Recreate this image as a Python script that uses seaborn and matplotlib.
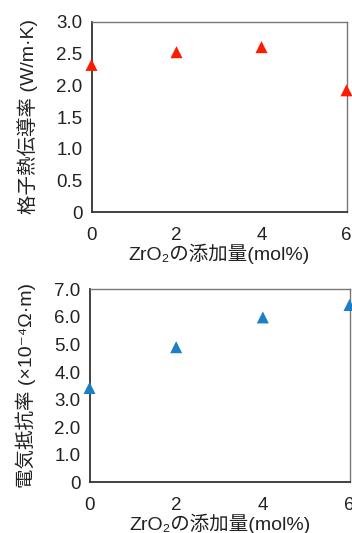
import matplotlib
matplotlib.use("Agg")
import matplotlib.pyplot as plt
import seaborn as sns
import pandas as pd

# データ
zro2 = [0, 2, 4, 6]
lattice_k = [2.32, 2.52, 2.60, 1.92]
resistivity = [3.42, 4.90, 5.98, 6.43]

sns.set_style("white")
plt.rcParams['font.family'] = ['Liberation Sans', 'Noto Sans CJK JP', 'DejaVu Sans']

W, H = 352, 533
fig = plt.figure(figsize=(W / 100, H / 100), dpi=100)

df1 = pd.DataFrame({'x': zro2, 'y': lattice_k})
df2 = pd.DataFrame({'x': zro2, 'y': resistivity})

ax1 = fig.add_axes([91.5 / W, 1 - 212.3 / H, (346.5 - 91.5) / W, (212.3 - 21.7) / H])
ax2 = fig.add_axes([89.5 / W, 1 - 482.3 / H, (349.5 - 89.5) / W, (482.3 - 289.3) / H])

sns.scatterplot(data=df1, x='x', y='y', ax=ax1, marker='^', color='#ff1a00',
                s=75, edgecolor='none', clip_on=False, zorder=5)
sns.scatterplot(data=df2, x='x', y='y', ax=ax2, marker='^', color='#1a7fc4',
                s=75, edgecolor='none', clip_on=False, zorder=5)

for ax in (ax1, ax2):
    ax.set_xlim(0, 6)
    ax.set_xticks([0, 2, 4, 6])
    ax.set_xticklabels(['0', '2', '4', '6'])
    for side in ('left', 'bottom'):
        ax.spines[side].set_color('#333333')
        ax.spines[side].set_linewidth(1.3)
    for side in ('top', 'right'):
        ax.spines[side].set_color('#777777')
        ax.spines[side].set_linewidth(1.0)
    ax.tick_params(direction='inout', length=5, width=1, color='#333333',
                   labelsize=13.5, labelcolor='#222222', pad=4)
    ax.tick_params(axis='x', pad=8)
    ax.set_xlabel('ZrO₂の添加量(mol%)', fontsize=14, color='#222222', labelpad=0)

ax1.set_ylim(0, 3.0)
ax1.set_yticks([0, 0.5, 1.0, 1.5, 2.0, 2.5, 3.0])
ax1.set_yticklabels(['0', '0.5', '1.0', '1.5', '2.0', '2.5', '3.0'])
ax1.set_ylabel('格子熱伝導率 (W/m·K)', fontsize=14, color='#222222', labelpad=13)

ax2.set_ylim(0, 7.0)
ax2.set_yticks([0, 1, 2, 3, 4, 5, 6, 7])
ax2.set_yticklabels(['0', '1.0', '2.0', '3.0', '4.0', '5.0', '6.0', '7.0'])
ax2.set_ylabel('電気抵抗率 (×10⁻⁴Ω·m)', fontsize=14, color='#222222', labelpad=13,
               family=['Liberation Sans', 'DejaVu Sans', 'Noto Sans CJK JP'])

fig.savefig('out.png', dpi=100)
